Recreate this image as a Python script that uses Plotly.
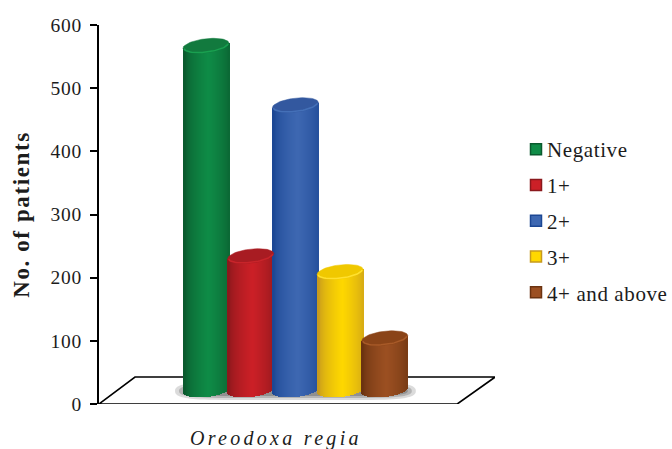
import numpy as np
import plotly.graph_objects as go

# Patient counts per grade
categories = ["Negative", "1+", "2+", "3+", "4+ and above"]
patients = [545, 212, 451, 187, 82]
tick_values = [0, 100, 200, 300, 400, 500, 600]
x_label = "Oreodoxa regia"
y_label = "No. of patients"

# Cylinder colours: edge, mid, cap, rim highlight
edge_colors = ["#0a5a2e", "#8a181c", "#1c4794", "#c79a1e", "#6b3310"]
mid_colors = ["#0f8c47", "#cc2027", "#3e68b2", "#ffd800", "#9c5022"]
cap_colors = ["#127a3e", "#a81c22", "#33589f", "#f0c800", "#8a4418"]
rim_colors = ["#19a050", "#c8242a", "#4470b8", "#ffe030", "#a85a28"]

FONT = "Liberation Serif"
INK = "#1c1c1c"

# Plot-area geometry: the x axis counts bar slots, the y axis counts patients
SLOT_PX = 44.7
PX_PER_UNIT = 379 / 600
HALF_WIDTH = 23 / SLOT_PX
CAP_HEIGHT = 7 / PX_PER_UNIT
CAP_TILT = 2.5 / PX_PER_UNIT
FLOOR_BACK = 27 / PX_PER_UNIT
FLOOR_MID = 14 / PX_PER_UNIT
X_RANGE = [-2.394, 6.465]
STRIPS = 46


def hex_rgb(c):
    return np.array([int(c[i:i + 2], 16) for i in (1, 3, 5)], dtype=float)


def blend(a, b, t):
    r = hex_rgb(a) * (1 - t) + hex_rgb(b) * t
    return "rgb(%d,%d,%d)" % tuple(r)


fig = go.Figure()

for i, (name, value) in enumerate(zip(categories, patients)):
    # Body: vertical strips shaded like a lit cylinder
    u = (np.arange(STRIPS) + 0.5) / STRIPS * 2 - 1
    x = i + u * HALF_WIDTH
    bottom = FLOOR_MID + CAP_TILT * u - CAP_HEIGHT * np.sqrt(1 - u ** 2)
    top = FLOOR_MID + value + CAP_TILT * u
    shade = np.clip(1 - np.abs(u - 0.1) / 1.0, 0, 1) ** 0.55
    fig.add_trace(go.Bar(
        x=x, y=top - bottom, base=bottom,
        width=2 * HALF_WIDTH / STRIPS * 1.02,
        marker=dict(color=[blend(edge_colors[i], mid_colors[i], s) for s in shade],
                    line_width=0),
        showlegend=False, hoverinfo="skip",
    ))

for i, value in enumerate(patients):
    # Top face with a brighter front rim
    t = np.linspace(0, 2 * np.pi, 73)
    cap_x = i + HALF_WIDTH * np.cos(t)
    cap_y = FLOOR_MID + value + CAP_TILT * np.cos(t) + CAP_HEIGHT * np.sin(t)
    fig.add_trace(go.Scatter(
        x=cap_x, y=cap_y, mode="lines", fill="toself",
        fillcolor=cap_colors[i], line=dict(color=cap_colors[i], width=0.5),
        showlegend=False, hoverinfo="skip",
    ))
    front = t[37:72]
    fig.add_trace(go.Scatter(
        x=i + HALF_WIDTH * 0.96 * np.cos(front),
        y=FLOOR_MID + value + CAP_TILT * np.cos(front) + CAP_HEIGHT * 0.9 * np.sin(front),
        mode="lines", line=dict(color=rim_colors[i], width=1.5),
        showlegend=False, hoverinfo="skip",
    ))

# Legend entries
for i, name in enumerate(categories):
    fig.add_trace(go.Scatter(
        x=[None], y=[None], mode="markers", name=name, legendgroup=name,
        marker=dict(symbol="square", size=11, color=mid_colors[i],
                    line=dict(color=edge_colors[i], width=1.5)),
    ))

# Floor parallelogram and the soft shadow beneath the cylinders
shapes = []
floor_left, floor_right = X_RANGE[0], 5.62
skew = 36 / SLOT_PX
shapes.append(dict(
    type="path", layer="below", xref="x", yref="y",
    path=f"M {floor_left} 0 L {floor_right} 0 L {floor_right + 38 / SLOT_PX} {FLOOR_BACK} "
         f"L {floor_left + skew} {FLOOR_BACK} Z",
    fillcolor="white", line=dict(color="black", width=1.6),
))
n = len(patients)
centre_x = (n - 1) / 2
for grow, alpha in [(8, 0.22), (4, 0.3), (0, 0.4)]:
    half_x = (n - 1) / 2 + HALF_WIDTH + grow / SLOT_PX
    half_y = (5 + grow / 2) / PX_PER_UNIT
    a = np.linspace(0, 2 * np.pi, 90)
    px = centre_x + half_x * np.sign(np.cos(a)) * np.abs(np.cos(a)) ** 0.25
    py = FLOOR_MID - 1 / PX_PER_UNIT + half_y * np.sign(np.sin(a)) * np.abs(np.sin(a)) ** 0.8
    path = "M " + " L ".join(f"{p:.3f} {q:.2f}" for p, q in zip(px, py)) + " Z"
    shapes.append(dict(type="path", layer="below", xref="x", yref="y", path=path,
                       fillcolor=f"rgba(90,90,90,{alpha})", line_width=0))

fig.update_layout(
    width=672, height=449,
    margin=dict(l=99, r=177, t=25, b=45, autoexpand=False),
    paper_bgcolor="white", plot_bgcolor="white",
    barmode="overlay", bargap=0,
    shapes=shapes,
    font=dict(family=FONT, color=INK),
    xaxis=dict(range=X_RANGE, showticklabels=False, ticks="", showline=False,
               showgrid=False, zeroline=False, automargin=False),
    yaxis=dict(range=[0, 600], tickvals=tick_values, ticks="outside", ticklen=7,
               tickwidth=2, tickcolor="black", showline=True, linewidth=2,
               linecolor="black", showgrid=False, zeroline=False, automargin=False,
               ticklabelstandoff=4,
               tickfont=dict(family=FONT, size=19.5, color=INK),
               title=dict(text=f"<b>{y_label}</b>", standoff=17,
                          font=dict(family=FONT, size=23, color=INK))),
    legend=dict(x=(507 - 99) / 396, y=(404 - 129) / 379, xanchor="left", yanchor="top",
                font=dict(family=FONT, size=21, color=INK),
                traceorder="grouped", tracegroupgap=5.5, bgcolor="rgba(0,0,0,0)"),
    annotations=[dict(
        text=f"<i>{x_label}</i>", xref="paper", yref="paper",
        x=(276 - 99) / 396, y=(404 - 438) / 379, xanchor="center", yanchor="middle",
        showarrow=False, font=dict(family=FONT, size=20, color=INK),
    )],
)

# Wide tracking on the axis text, tighter legend symbols, unclipped legend labels
post = """
var s = document.createElement('style');
s.textContent = '.annotation-text{letter-spacing:3.3px}.ytitle{letter-spacing:1.6px}.ytick text{letter-spacing:0.8px}.legendtext{letter-spacing:0.6px}';
document.head.appendChild(s);
document.querySelectorAll('.legendsymbols').forEach(function(g){g.setAttribute('transform','translate(9,0)');});
document.querySelectorAll('.legend .scrollbox').forEach(function(g){g.removeAttribute('clip-path');});
"""
fig.write_html("out.html", post_script=post, config={"displayModeBar": False})
